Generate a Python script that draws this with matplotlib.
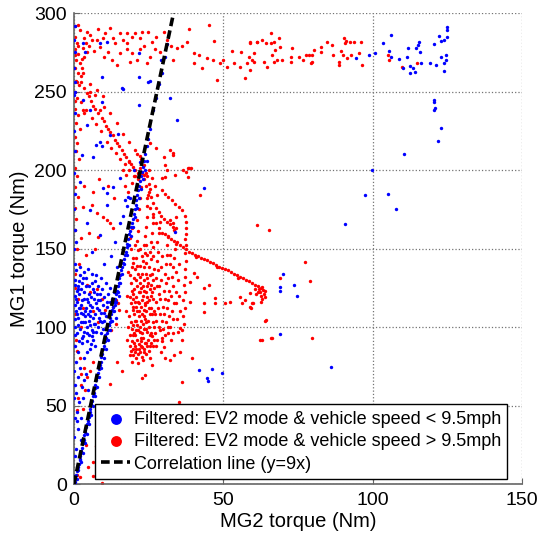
import matplotlib
matplotlib.use("Agg")
import matplotlib.pyplot as plt
import numpy as np

plt.rcParams['font.family'] = ['Liberation Sans', 'DejaVu Sans']

# ---- blue: EV2 mode, speed < 9.5 mph  (MG2 torque, MG1 torque) ----
blue_line = [(0.2,1),(0.5,4),(0.8,6),(1.0,8),(1.3,11),(1.6,13),(1.9,16),(2.1,18),(2.4,21),(2.7,23),
             (3.0,26),(3.2,28),(3.5,31),(3.8,33),(4.1,36),(4.3,38),(4.6,40),(4.9,43),(5.2,46),(5.5,48),
             (5.8,51),(6.0,53),(6.3,56),(6.6,58),(6.9,61),(7.2,63),(7.5,66),(7.7,68),(8.0,71),(8.3,73),
             (8.6,76),(8.9,78),(9.2,81),(9.5,83),(9.8,86),(10.1,88),(10.4,91),(10.7,93),(11.0,96),(11.3,98),
             (11.6,101),(11.9,103),(12.2,106),(12.5,108),(12.8,111),(13.1,113),(13.4,116),(13.7,118),(14.0,121),
             (14.3,123),(14.6,126),(14.9,128),(15.2,131),(15.5,133),(15.8,136),(16.1,138),(16.4,141),(16.7,143),
             (17.0,146),(17.3,148),(17.6,151),(17.9,153),(18.2,156),(18.5,159),(18.8,161),(19.1,164),(19.4,166),
             (19.7,169),(20.0,172),(20.3,175),(20.6,178),(20.9,181),(21.2,184),(21.5,187),(21.8,190),(22.1,193),
             (22.4,196),(22.7,199),(23.0,202),(23.4,206),(23.8,210),(24.3,215),(24.8,220),(25.3,226),
             (0.9,3),(1.5,9),(2.2,14),(2.9,20),(3.6,26),(4.3,32),(5.0,38),(5.7,44),(6.4,50),(7.1,56),(7.8,62),
             (8.5,68),(9.2,74),(9.9,80),(10.6,86),(11.3,92),(12.0,98),(12.7,104),(13.4,110),(14.1,116),(14.8,122),
             (15.5,128),(16.2,134),(16.9,140),(17.6,146),(18.3,152),(19.0,158),(19.7,164),(20.4,170),(21.1,176),
             (21.8,182),(22.5,188),(23.2,194),(23.9,200),(24.6,206),(26.5,238),(27.5,246),(28.5,255),
             (29.5,262),(30.5,272),(31.0,280),(29.0,270)]

blue_cluster = [(0.5,130),(1.2,126),(2.0,133),(2.8,128),(3.5,122),(4.1,131),(5.0,126),(5.6,119),(6.3,124),
                (7.1,129),(7.8,121),(8.6,117),(9.4,124),(10.2,119),(11.0,113),(12.1,116),(13.0,110),(14.2,106),
                (0.3,120),(1.0,116),(1.8,121),(2.5,114),(3.2,118),(4.0,112),(4.7,116),(5.3,110),(6.1,113),
                (6.9,108),(7.6,112),(8.3,106),(9.1,109),(10.0,104),(10.8,107),(11.6,101),(12.5,104),
                (0.6,110),(1.4,106),(2.2,109),(3.0,103),(3.7,107),(4.4,100),(5.1,104),(5.9,98),(6.6,102),
                (7.4,97),(8.1,100),(8.9,96),(9.7,99),(10.5,95),(0.4,100),(1.1,96),(1.9,99),(2.6,93),(3.4,97),
                (4.2,91),(5.0,95),(5.7,89),(6.4,92),(7.2,88),(0.8,136),(2.1,138),(3.3,135),(4.6,137),(6.0,134),
                (7.5,133),(9.0,131),(10.6,128),(12.0,125),(13.5,122),(15.0,120),(8.0,126),(11.5,121),(13.8,114),
                (1.5,124),(3.9,126),(6.7,118),(9.8,114),(2.3,103),(5.4,107),(8.4,111),(0.9,123),(2.7,117),
                (4.9,121),(7.3,115),(1.6,112),(3.6,110),(0.4,105),(1.3,101),(6.2,97),(9.3,103),
                (0.2,127),(0.7,118),(1.7,129),(2.4,124),(3.1,131),(4.3,118),(5.2,114),(5.9,128),(6.8,122),
                (7.9,117),(8.8,121),(9.9,109),(10.9,116),(11.9,110),(12.8,118),(0.3,114),(1.0,108),(2.0,112),
                (2.9,108),(3.8,103),(4.6,108),(5.5,101),(6.4,106),(7.0,102),(8.7,104),(0.5,95),(1.6,91),
                (3.0,94),(4.5,96),(6.0,94)]

blue_low = [(0.5,88),(1.5,84),(2.8,90),(0.8,78),(2.0,74),(3.5,80),(1.2,68),(2.6,62),(4.0,70),(0.6,58),
            (1.8,52),(3.1,55),(4.6,60),(0.9,46),(2.4,42),(1.5,35),(0.7,22),(2.0,15),(4.2,84),(5.5,86),
            (3.3,66),(1.1,40),(2.2,28)]

blue_axis = [(0.1,5),(0.2,18),(0.1,30),(0.3,42),(0.1,55),(0.2,63),(0.1,72),(0.2,140),(0.1,150),(0.3,162),
             (0.1,175),(0.2,185),(0.1,198),(0.2,212),(0.1,225),(0.3,236),(0.1,248),(0.2,256),(0.1,265),
             (0.2,275),(0.1,283),(0.2,292)]

blue_scatter = [(3.1,280.7),(8.7,280.7),(11.0,281.7),(3.7,275.4),(21.6,274.3),(21.6,259.4),(25.5,256.6),
                (9.3,259.4),(16.5,251.6),(3.1,244.6),(9.3,243.0),(21.6,241.4),(0.3,250),(5.4,238),
                (32.2,245.7),(34.5,231.8),(16.0,252),(24.9,256.2),(4.3,228.7),(8.7,217.6),(7.3,216),
                (9.5,215),(12.1,222),(14.8,223),(2.6,209.6),(6.5,208.5),(9.8,188.3),(13.2,189.4),(15.5,195),
                (17.1,181),(18.0,183),(5.4,174.5),(11.0,178),(20.0,200),(22.0,205),(2.0,192.5),(11.0,185.2),
                (17.7,176.8),(16.5,171),(15.4,166),(4.3,166),(8.7,158.6),(13.8,154.3),(43.4,188.3),
                (33.9,160.7),(0.6,154.3),(18.8,182),(12.5,145),(6.0,148),(10.0,140),(14.5,138),(41.7,72.6),
                (46.2,73),(49.6,70.5),(45.0,65.8),(44.5,67.5),(86.0,74.5),(68.8,95.3)]

blue_far = [(98.8,273),(100.7,274.7),(103.3,280.7),(106,286),(105.5,276),(106,272),(108.8,271),(110,265),
            (111.6,272),(111.8,277.5),(112.5,266),(112.5,262),(113.3,265),(114.2,262.6),(114.4,277.5),
            (115,279.6),(115.5,281.7),(115.9,275.4),(116.3,268.4),(119.2,268.4),(120.4,280),(121.2,267),
            (122,285.5),(122.8,272),(122.8,282),(123.7,268),(123.7,263),(124.5,273),(124.5,270),(124,282.8),
            (125,284.5),(124.7,291),(124.7,289),(120.6,244.5),(120.6,243.5),(120.8,239.5),(120.6,238.5),
            (122.8,227),(121.7,218.5),(110.5,210),(99.7,200),(97.4,184),(105.1,184.5),(107.7,175),
            (90.6,165.4),(69.8,133.6),(69.1,125.3),(69.1,123),(73.6,126.6),(74.7,119.7),(94.5,271.5)]

# ---- red: EV2 mode, speed > 9.5 mph ----
red_top = [(1.4,292.4),(12.1,290.3),(15.4,287),(17.7,287),(20.5,287),(22.7,287.7),(24.9,287.7),(7.6,282.8),
           (9.8,283.9),(13.8,280.7),(17.7,280.7),(22.1,283.9),(26.1,281.7),(34.5,277.5),(37.8,281.7),
           (40,274.3),(45.1,292.4),(41.7,273.2),(44.5,271.1),(46.5,270),(49,267.9),(50,270),(51.2,265.8),
           (53.5,267.9),(55.7,265.8),(57.9,267.9),(59.6,270),(59,280.7),(61.3,281.7),(57.4,258.4),
           (47.9,257.3),(42.8,264.8),(40,267.9),(8.7,278.6),(11.5,275.4),(15.4,274.3),(17.7,277),
           (19.4,274.3),(22.1,277),(25.5,272.2),(18.8,269),(14.3,266.9),(24.4,267.9),(28.9,275.4),
           (5.5,286),(10.5,287),(27.5,285),(31,283),(36,279),(59,281.7),(61.3,281.7),(63,282.8),
           (64.1,280.7),(65.8,287),(65.8,280.7),(66.9,281.7),(68.6,283.9),(67.4,276.4),(69.1,278.6),
           (66.3,273.2),(68,270),(69.7,270),(66.9,269),(60.2,274.3),(60.2,269),(59,263.7),(63.5,269),
           (64.6,265.8),(72.5,272.2),(72.5,269),(73,277.5),(75.3,272.2),(76.5,270),(77.5,273.2),
           (78.6,273.2),(79.8,273.2),(79.8,269),(80.3,276.4),(82.6,278.6),(82.6,275.4),(84.6,281.3),
           (86.5,279.6),(86.8,273.2),(88.7,269),(88.7,267),(90,273.2),(90.4,283.9),(91,282),(89.5,276),
           (91.5,271.1),(92.6,273.2),(93.7,281.7),(95.4,274.3),(96,281.7),(96.5,266.9),(92.3,281.7),
           (90.7,280.7),(79.2,267.9),(105,273),(105.5,270),(109.9,265.6),(114.7,268),(53,276),(47,282),
           (38.5,290),(33,270),(30,288),(4.5,288),(8.0,290),(13.0,284),(16.5,283),(19.5,285),(23.5,279),
           (10.2,272),(6.7,276),(12.7,270),(21.0,270),(27.0,277),(32.5,279),(56,275),(58.5,272)]

red_column = [(0.3,292),(0.5,285),(1.0,281),(0.4,277),(1.5,274),(0.8,270),(2.0,268),(0.3,265),(1.2,262),
              (2.5,260),(0.6,257),(1.8,254),(0.4,250),(1.0,246),(2.2,243),(0.5,239),(1.4,235),(0.8,230),
              (2.0,226),(0.4,221),(1.1,217),(0.6,212),(1.6,207),(0.3,201),(0.9,196),(0.5,189),(1.3,183),
              (0.4,176),(0.7,169),(0.3,162),(3.0,278),(3.5,272),(2.8,265),(4.0,281),(5.0,279),(4.5,275),
              (6.0,283),(3.2,284),(2.1,289),(1.2,279),(0.2,273),(2.6,271),(1.0,256),(0.2,244)]

red_cascade = [(2.5,256),(3.5,252),(4.2,249),(5.0,247),(5.8,244),(6.5,241),(7.2,239),(8.0,236),(8.6,238),
               (9.3,233),(10.0,231),(10.8,228),(11.5,226),(12.2,224),(13.0,222),(13.8,219),(14.5,217),
               (15.2,215),(16.0,213),(16.8,210),(17.5,208),(18.3,206),(19.0,204),(19.8,202),(20.5,200),
               (21.3,198),(22.0,201),(22.8,199),(23.5,197),(24.3,196),(4.0,238),(6.0,233),(7.5,229),
               (9.0,225),(11.0,218),(12.5,214),(14.0,211),(15.5,207),(17.0,204),(18.5,200),(20.0,196),
               (21.5,194),(10.0,240),(12.0,236),(14.5,230),(16.5,223),(18.5,218),(20.5,213),(22.0,209),
               (7.0,248),(5.5,255),(3.0,262),(3.3,236),(5.4,250),(7.6,251),(9.7,247),(3.1,238),
               (17,190),(18,186),(19.5,192),(20.5,196),(16.5,200),(18.5,205),(17.5,197),(9.8,170),
               (3.1,176.6),(5.9,177.7),(7.6,172.4),(11,168.2),(12.1,166),(13.2,162.9),(8.2,157.6),
               (32.2,212.7),(33.3,209.5),(38.4,201),(37.5,199),(25.5,217),(27.5,214),(30,208),(33,211),
               (30.5,203),(31.2,200),(30.5,195.5),(29.5,195),(38.3,201),(39,201),(38.3,195.5),(33.9,197),
               (42.3,184),(36.6,200),(24.0,198),(25.0,200),(23.5,203),(22.5,207),(21.0,210),(26.0,195),
               (27.0,190),(25.5,188),(27.8,184)]

red_curve = [(22.7,198),(23.5,194),(24.2,190),(25.0,186),(25.8,183),(26.6,179),(27.5,176),(28.3,173),
             (29.2,171),(30.0,169),(31.0,167),(32.0,165.5),(33.0,164),(34.0,163),(29.4,187),(30.5,184.8),
             (31.6,182.7),(32.7,180.6),(33.9,178.5),(35.0,176.4),(36.1,174.3),(37.2,171),(37.5,167),
             (37.6,163),(37.4,159),(32.3,168),(33.1,166),(34.2,170),(33.5,162)]

red_diag = [(24.5,182),(25.5,176),(26.5,170),(27.5,166),(28.5,163),(29.5,160),(30.5,159),(31.5,157.5),
            (32.5,156),(33.5,155),(34.5,154),(35.5,152.5),(36.5,151),(37.5,149.5),(38.5,148),(39.5,147),
            (40.5,146),(41.5,145),(42.5,144),(43.5,143.5),(44.5,142.5),(45.5,141.5),(46.5,140.5),
            (47.5,139.5),(48.5,138.5),(49.5,137.5),(50.5,137),(51.5,136),(52.5,135),(53.5,134),(54.5,133),
            (55.5,132),(56.5,131),(57.5,130),(58.5,129),(59.5,128),(60.5,127),(61.5,126),(62.5,125),
            (63.2,123.5),(61.5,122),(62.5,120),(63.5,121),(62.0,124),(63.8,119),(62.8,118),(61.0,121),
            (60.5,124),(62.2,122.5),(63.0,125.5),(64.0,123),(34,153),(41,144.5),(48,138),(55,131.5)]

red_streaks = [(18.6,82),(19.2,85),(18.9,88),(19.5,91),(18.7,95),(19.3,99),(19.0,103),(18.5,107),(19.6,111),
               (19.1,115),(18.8,119),(19.4,123),(19.0,128),(18.6,133),(19.3,138),(19.7,144),(19.0,150),
               (18.9,157),(19.4,163),
               (20.8,80),(21.3,83),(20.6,86),(21.7,89),(21.0,92),(20.5,95),(21.5,98),(21.1,101),(20.7,104),
               (21.8,107),(21.2,110),(20.6,113),(21.4,116),(20.9,119),(21.6,122),(21.0,126),(20.8,130),
               (21.3,134),(21.1,139),(20.7,144),(21.4,149),(21.0,155),(21.5,161),(21.2,168),(21.8,175),
               (22.1,182),(22.4,189),
               (22.9,81),(23.4,84),(22.6,87),(23.8,90),(23.1,93),(22.7,96),(23.5,99),(23.0,102),(23.9,105),
               (22.8,108),(23.3,111),(23.7,114),(22.6,117),(23.2,120),(23.6,123),(23.0,126),(23.4,130),
               (22.8,134),(23.5,138),(23.1,142),(23.7,147),(23.3,152),(23.9,158),(24.1,164),(24.4,170),
               (24.6,177),(24.9,184),(25.2,191),
               (25.0,85),(25.5,88),(24.7,92),(25.8,96),(25.2,100),(24.8,104),(25.6,108),(25.1,112),
               (24.6,116),(25.7,120),(25.3,124),(24.9,128),(25.5,133),(25.0,138),(25.8,143),(25.4,148),
               (25.9,154),(26.1,160),(26.3,166),(26.6,172),
               (27.3,88),(27.9,92),(27.1,96),(28.3,100),(27.6,104),(27.2,108),(28.0,112),(27.5,116),
               (28.4,121),(27.8,126),(27.3,131),(28.1,136),(27.7,142),(28.2,148),(27.9,154),(28.5,160),
               (28.8,167),
               (30.1,87),(29.6,91),(30.5,95),(29.9,99),(30.7,103),(30.2,108),(29.8,113),(30.6,118),
               (30.0,123),(30.9,128),(30.3,134),(30.7,140),(31.0,146),(31.2,152),(31.5,158),
               (32.5,92),(33.0,96),(32.3,100),(33.2,105),(32.7,110),(33.4,115),(32.6,120),(33.1,126),
               (32.8,132),(33.3,138),(33.6,144),(33.9,150),
               (36.3,98),(36.8,102),(36.5,107),(37.0,112),(36.6,117),(37.2,122),(36.9,127),(37.3,132),
               (37.0,137),(37.4,142),(37.1,147),(37.5,152),(37.3,156),
               (19.8,86),(22.0,84),(24.0,90),(26.0,94),(20.2,96),(22.2,100),(24.2,103),(26.2,108),(21.9,110),
               (23.9,115),(19.9,118),(22.1,122),(24.3,126),(26.4,118),(20.3,104),(17.8,92),(18.0,100),
               (17.5,110),(17.8,120),(18.2,135),(26.8,100),(28.9,98),(28.7,108),(31.3,100),(31.0,112),
               (34.5,105),(34.0,115),(29.0,84),(30.5,80),(32.0,79),(33.5,82),(19.5,78),(21.5,77),(23.0,79),
               (25.5,80),(20.0,90),(22.4,93),(24.5,97),(20.5,84),(22.5,88),(24.0,83),(26.5,88),(29.5,93),
               (31.5,96),(34.8,97),(35.5,110),(35.2,120),(34.9,130),(31.8,123),(29.0,130),(26.9,137),
               (29.3,145),(32.2,140),(35.0,140)]

red_dense = [(19.9,82),(20.4,88),(21.9,86),(22.3,91),(23.6,86),(24.4,88),(25.9,90),(26.8,92),(19.7,95),
             (20.9,98),(22.0,97),(24.0,99),(25.3,95),(26.5,103),(19.6,101),(20.1,108),(22.5,104),(23.4,107),
             (24.1,110),(25.9,112),(26.7,110),(19.8,113),(20.3,116),(21.8,115),(22.4,113),(24.3,119),
             (25.0,117),(26.1,122),(26.9,125),(19.7,121),(20.2,124),(22.0,128),(22.5,125),(24.0,122),
             (25.8,127),(26.6,130),(20.1,131),(20.3,137),(22.2,132),(24.1,134),(24.4,131),(26.2,134),
             (19.9,141),(22.1,139),(22.6,145),(24.2,141),(24.5,146),(26.4,145),(20.3,152),(22.0,150),
             (24.0,152),(26.5,151),(28.8,118),(29.3,104),(31.7,107),(31.6,117),(28.6,126),(31.4,131),
             (29.1,138),(32.0,146),(34.2,122),(34.1,135)]

red_left = [(1.5,118),(3.0,112),(4.5,127),(6.5,110),(8.0,103),(10.5,111),(12.5,98),(2.5,100),(14.0,102),
            (13.0,113),(14.0,117),(15.2,111),(14.6,115),(1.0,85),(2.0,80),(3.5,74),(4.5,68),(2.5,63),
            (5.5,72),(6.5,78),(1.5,55),(3.0,48),(0.9,47),(0.3,125),(0.2,108),(0.5,134),(1.8,140),(4.0,146),
            (7.0,150),(2.5,157),(5.0,160),(1.0,150),(3.5,190),(6.5,186),(8.5,194),(11.5,190),(13.5,182),
            (5.3,122),(7.7,124),(9.5,118),(11.8,108),(0.7,92),(2.2,70),(3.8,60)]

red_misc = [(6.5,14),(6.5,5),(2.0,4.6),(0.9,5.7),(4.8,11),(9.3,0.6),(14.3,78),(22.7,67.3),(36.1,65),
            (19.4,48),(35.0,52.4),(23.8,69.4),(16.0,72),(12.0,64),(26.0,76),(10.0,30),(4.0,25),(8.0,18),
            (7.5,24),(11.5,12),(61.3,164.7),(65.2,161.8),(77.3,141.4),(79.0,129),(69.1,131),(63.9,103.8),
            (62.6,115.7),(60.0,115),(59.4,112),(62.8,91.7),(66.1,92.8),(79.8,92.8),(40.0,134.2),(41.2,132),
            (38.9,128.9),(43.4,124.6),(45.1,126.8),(38.9,116.2),(43.4,115.1),(43.4,109.8),(47.3,118.3),
            (47.3,115.1),(50.7,115.1),(52.3,116.2),(55.7,119.4),(56.3,115.1),(57.4,117.2),(59.0,121.5),
            (59.6,115.1),(59.0,112.9),(64.1,104.5),(35.6,99.2),(36.1,91.7),(35.6,84.4),(62.4,91.7),
            (66.3,92.8),(39.5,80)]

corr_slope = 9

blue = np.array(blue_line + blue_cluster + blue_low + blue_axis + blue_scatter + blue_far)
red = np.array(red_top + red_column + red_cascade + red_curve + red_diag + red_streaks + red_dense
               + red_left + red_misc)

fig = plt.figure(figsize=(5.4, 5.35), dpi=100)
ax = fig.add_axes([0.137, 0.0953, 0.830, 0.8804])

hb = ax.scatter(blue[:, 0], blue[:, 1], s=6, c='#0000ff', marker='o', linewidths=0, zorder=3,
                label='Filtered: EV2 mode & vehicle speed < 9.5mph')
hr = ax.scatter(red[:, 0], red[:, 1], s=6, c='#ff0000', marker='o', linewidths=0, zorder=2,
                label='Filtered: EV2 mode & vehicle speed > 9.5mph')
xs = np.array([0, 300 / corr_slope])
hl, = ax.plot(xs, corr_slope * xs, color='black', lw=2.6, linestyle=(0, (2.4, 1.2)), zorder=4,
              label='Correlation line (y=9x)')

ax.set_xlim(0, 150)
ax.set_ylim(0, 300)
ax.set_xticks([0, 50, 100, 150])
ax.set_yticks([0, 50, 100, 150, 200, 250, 300])
ax.grid(True, linestyle=':', color='0.45', linewidth=0.9)
ax.set_axisbelow(True)
for side in ['top', 'right']:
    ax.spines[side].set_visible(False)
for side in ['left', 'bottom']:
    ax.spines[side].set_color('0.4')
    ax.spines[side].set_linewidth(1.2)
ax.tick_params(direction='in', length=4, labelsize=14, color='0.4')
ax.tick_params(axis='x', pad=6)
ax.tick_params(axis='y', pad=5)

ax.set_xlabel('MG2 torque (Nm)', fontsize=14.5, labelpad=2)
ax.set_ylabel('MG1 torque (Nm)', fontsize=14.5, labelpad=4)

leg = ax.legend(handles=[hb, hr, hl], loc='lower right', bbox_to_anchor=(0.967, 0.011),
                fontsize=13, frameon=True, fancybox=False, edgecolor='black', framealpha=1,
                borderpad=0.35, labelspacing=0.3, handlelength=1.6, handletextpad=0.2,
                borderaxespad=0, markerscale=3.2)
leg.get_frame().set_linewidth(1.0)
leg.set_zorder(5)

fig.savefig('out.png', dpi=100)
